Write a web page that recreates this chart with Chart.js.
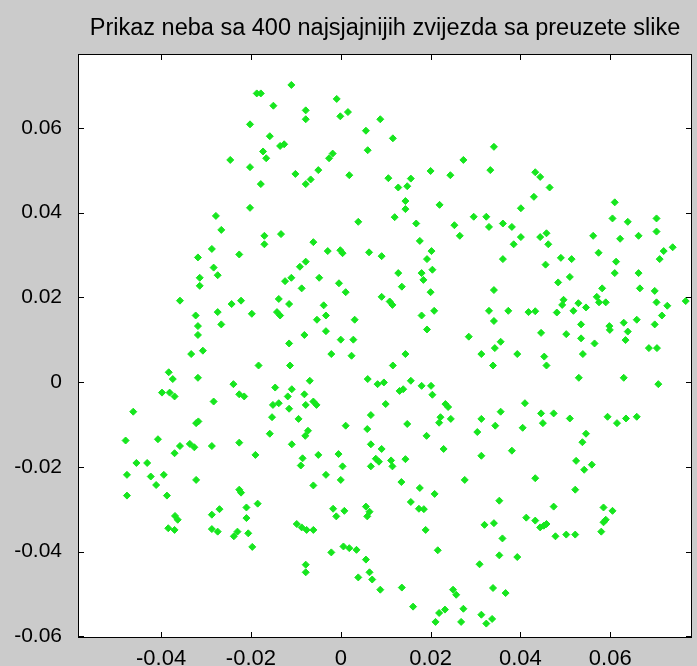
<!DOCTYPE html>
<html lang="hr">
<head>
<meta charset="UTF-8">
<title>Prikaz neba</title>
<script src="https://cdn.jsdelivr.net/npm/chart.js"></script>
<style>
  html, body { margin: 0; padding: 0; background: #cbcbcb; }
  canvas { display: block; }
</style>
</head>
<body>
<canvas id="nebo" width="697" height="666"></canvas>
<script>
// podaci ocitani sa slike (jedna linija = jedan dio slike, x i y idu u paru)
const naslov = 'Prikaz neba sa 400 najsjajnijih zvijezda sa preuzete slike';
const xTicks = [-0.04, -0.02, 0, 0.02, 0.04, 0.06];
const yTicks = [-0.06, -0.04, -0.02, 0, 0.02, 0.04, 0.06];

const starX = [
  -0.0187,-0.0178,-0.0150,-0.0202,-0.0158,-0.0135,-0.0173,-0.0166,-0.0246,-0.0202,-0.0178,
  -0.0126,-0.0110,-0.0009,-0.0078,-0.0078,-0.0001,0.0016,0.0088,0.0056,0.0116,0.0060,-0.0018,-0.0026,-0.0101,-0.0050,-0.0067,-0.0078,0.0019,0.0106,0.0128,0.0148,0.0156,0.0200,0.0244,0.0273,
  0.0341,0.0333,0.0433,0.0444,0.0465,
  -0.0202,-0.0278,-0.0266,-0.0170,-0.0170,-0.0133,-0.0287,-0.0318,-0.0226,-0.0283,-0.0274,-0.0314,-0.0314,-0.0358,-0.0243,-0.0222,-0.0138,-0.0274,-0.0323,-0.0198,-0.0142,-0.0135,-0.0266,-0.0318,-0.0318,
  0.0144,0.0144,0.0220,0.0039,0.0120,0.0168,0.0253,0.0296,0.0324,0.0265,-0.0061,0.0176,-0.0029,-0.0001,0.0004,0.0063,0.0091,0.0202,0.0192,-0.0091,-0.0078,0.0204,0.0128,0.0180,0.0184,-0.0110,-0.0124,-0.0048,-0.0087,-0.0004,0.0011,0.0136,0.0200,0.0091,0.0109,0.0115,-0.0115,-0.0038,-0.0033,-0.0053,0.0031,0.0180,0.0208,-0.0033,-0.0081,0.0192,0.0285,0.0000,0.0028,-0.0115,
  0.0430,0.0610,0.0401,0.0330,0.0361,0.0381,0.0401,0.0385,0.0444,0.0458,0.0462,0.0605,0.0639,0.0703,0.0703,0.0562,0.0622,0.0663,0.0739,0.0719,0.0710,0.0574,0.0361,0.0490,0.0514,0.0456,0.0613,0.0610,0.0663,0.0510,0.0484,0.0341,0.0582,0.0666,0.0699,0.0570,0.0575,0.0590,0.0496,0.0493,0.0529,0.0546,0.0518,0.0481,0.0330,0.0373,0.0418,0.0433,0.0703,0.0727,0.0768,0.0715,0.0341,0.0535,0.0630,0.0659,0.0699,0.0598,0.0599,0.0639,0.0446,0.0502,0.0535,0.0634,0.0356,0.0343,0.0565,0.0686,0.0704,
  -0.0333,-0.0307,-0.0183,-0.0383,-0.0374,-0.0318,-0.0239,-0.0146,-0.0398,-0.0381,-0.0370,-0.0226,-0.0215,-0.0283,-0.0151,-0.0138,-0.0462,-0.0153,-0.0322,-0.0317,-0.0479,-0.0407,-0.0158,-0.0358,-0.0336,-0.0326,-0.0287,-0.0226,-0.0370,-0.0190,-0.0455,-0.0431,-0.0476,-0.0423,-0.0394,-0.0411,-0.0322,-0.0476,-0.0387,-0.0226,-0.0222,-0.0185,
  -0.0021,0.0024,0.0144,0.0313,-0.0113,0.0116,-0.0069,0.0060,0.0082,0.0096,0.0156,0.0180,0.0201,-0.0109,-0.0118,-0.0081,0.0131,0.0139,0.0204,-0.0061,-0.0054,-0.0078,-0.0115,0.0100,0.0233,0.0239,0.0067,-0.0094,0.0222,0.0219,0.0245,0.0313,0.0011,0.0148,0.0059,-0.0073,-0.0079,0.0304,0.0191,0.0067,-0.0109,0.0091,0.0229,-0.0050,-0.0005,-0.0085,-0.0089,0.0078,0.0085,0.0112,0.0115,0.0144,0.0313,0.0004,0.0067,-0.0033,0.0000,0.0135,0.0276,-0.0061,0.0176,0.0209,0.0156,
  0.0393,0.0453,0.0458,0.0539,0.0339,0.0530,0.0630,0.0707,0.0410,0.0356,0.0446,0.0474,0.0510,0.0594,0.0615,0.0635,0.0659,0.0344,0.0405,0.0450,0.0546,0.0538,0.0381,0.0524,0.0559,0.0542,0.0433,0.0522,0.0353,
  -0.0369,-0.0363,-0.0384,-0.0370,-0.0287,-0.0270,-0.0287,-0.0274,-0.0210,-0.0210,-0.0230,-0.0238,-0.0206,-0.0197,
  -0.0017,-0.0010,0.0008,0.0056,0.0064,0.0059,-0.0098,-0.0087,-0.0076,-0.0061,0.0174,0.0185,0.0189,0.0320,0.0006,0.0019,0.0035,-0.0021,0.0216,-0.0078,-0.0078,0.0056,0.0309,0.0039,0.0064,0.0070,0.0088,0.0136,0.0250,0.0257,0.0161,0.0219,0.0232,0.0273,0.0211,0.0268,0.0313,0.0324,
  0.0474,0.0585,0.0605,0.0341,0.0413,0.0433,0.0444,0.0452,0.0458,0.0478,0.0502,0.0522,0.0585,0.0590,0.0580,0.0360,0.0353,0.0393,0.0339,0.0367,0.0337
];
const starY = [
  0.0681,0.0681,0.0652,0.0608,0.0580,0.0557,0.0544,0.0528,0.0524,0.0507,0.0467,
  0.0561,0.0701,0.0668,0.0641,0.0620,0.0627,0.0637,0.0620,0.0593,0.0575,0.0547,0.0539,0.0528,0.0491,0.0500,0.0478,0.0467,0.0488,0.0481,0.0459,0.0462,0.0480,0.0498,0.0488,0.0524,
  0.0555,0.0500,0.0495,0.0484,0.0459,
  0.0411,0.0392,0.0359,0.0345,0.0325,0.0349,0.0314,0.0294,0.0301,0.0270,0.0252,0.0246,0.0227,0.0192,0.0184,0.0192,0.0196,0.0165,0.0157,0.0161,0.0165,0.0157,0.0136,0.0132,0.0111,
  0.0427,0.0408,0.0418,0.0378,0.0389,0.0374,0.0370,0.0390,0.0390,0.0345,0.0330,0.0333,0.0309,0.0311,0.0304,0.0306,0.0297,0.0309,0.0290,0.0272,0.0284,0.0265,0.0257,0.0257,0.0241,0.0246,0.0238,0.0246,0.0221,0.0233,0.0212,0.0225,0.0212,0.0201,0.0190,0.0182,0.0184,0.0181,0.0157,0.0147,0.0147,0.0157,0.0168,0.0120,0.0111,0.0124,0.0107,0.0100,0.0100,0.0091,
  0.0437,0.0424,0.0410,0.0366,0.0374,0.0366,0.0342,0.0325,0.0342,0.0351,0.0325,0.0386,0.0378,0.0386,0.0355,0.0345,0.0338,0.0345,0.0318,0.0309,0.0290,0.0305,0.0290,0.0293,0.0290,0.0277,0.0284,0.0257,0.0257,0.0248,0.0235,0.0217,0.0221,0.0221,0.0215,0.0201,0.0188,0.0188,0.0194,0.0182,0.0186,0.0176,0.0168,0.0164,0.0168,0.0168,0.0165,0.0167,0.0188,0.0180,0.0191,0.0157,0.0144,0.0136,0.0140,0.0147,0.0136,0.0132,0.0123,0.0119,0.0116,0.0113,0.0103,0.0099,0.0095,0.0080,0.0091,0.0080,0.0080,
  0.0066,0.0074,0.0039,0.0023,0.0007,0.0010,-0.0005,-0.0013,-0.0025,-0.0025,-0.0034,-0.0029,-0.0034,-0.0046,-0.0054,-0.0050,-0.0070,-0.0083,-0.0097,-0.0093,-0.0138,-0.0135,-0.0122,-0.0151,-0.0146,-0.0154,-0.0151,-0.0143,-0.0168,-0.0172,-0.0191,-0.0191,-0.0219,-0.0223,-0.0219,-0.0243,-0.0231,-0.0268,-0.0268,-0.0254,-0.0261,-0.0287,
  0.0066,0.0062,0.0066,0.0066,0.0039,0.0039,0.0003,0.0007,-0.0005,-0.0001,0.0003,-0.0009,-0.0009,-0.0017,-0.0034,-0.0029,-0.0021,-0.0017,-0.0030,-0.0046,-0.0054,-0.0054,-0.0063,-0.0052,-0.0052,-0.0059,-0.0078,-0.0087,-0.0083,-0.0096,-0.0087,-0.0087,-0.0103,-0.0099,-0.0111,-0.0115,-0.0127,-0.0118,-0.0127,-0.0147,-0.0147,-0.0158,-0.0158,-0.0172,-0.0170,-0.0180,-0.0197,-0.0181,-0.0188,-0.0185,-0.0199,-0.0182,-0.0174,-0.0199,-0.0199,-0.0219,-0.0231,-0.0236,-0.0231,-0.0244,-0.0250,-0.0264,-0.0283,
  0.0066,0.0060,0.0039,0.0066,0.0039,0.0010,0.0010,-0.0005,-0.0050,-0.0070,-0.0074,-0.0074,-0.0086,-0.0082,-0.0097,-0.0086,-0.0082,-0.0103,-0.0108,-0.0097,-0.0122,-0.0142,-0.0162,-0.0186,-0.0195,-0.0207,-0.0227,-0.0254,-0.0280,
  -0.0316,-0.0325,-0.0345,-0.0349,-0.0313,-0.0300,-0.0347,-0.0353,-0.0296,-0.0321,-0.0353,-0.0364,-0.0357,-0.0389,
  -0.0299,-0.0317,-0.0304,-0.0294,-0.0306,-0.0317,-0.0335,-0.0343,-0.0349,-0.0349,-0.0299,-0.0300,-0.0349,-0.0337,-0.0388,-0.0392,-0.0396,-0.0402,-0.0397,-0.0431,-0.0449,-0.0419,-0.0430,-0.0461,-0.0449,-0.0466,-0.0490,-0.0485,-0.0490,-0.0502,-0.0530,-0.0545,-0.0537,-0.0535,-0.0566,-0.0566,-0.0549,-0.0570,
  -0.0294,-0.0296,-0.0304,-0.0333,-0.0320,-0.0327,-0.0343,-0.0339,-0.0335,-0.0364,-0.0360,-0.0360,-0.0331,-0.0325,-0.0353,-0.0369,-0.0409,-0.0413,-0.0486,-0.0498,-0.0559
];

const font = '"Liberation Sans", Arial, Helvetica, sans-serif';
const zelena = '#16e61e';

// siva pozadina, bijelo polje, okvir i crtice prema unutra
const matlabOkvir = {
  id: 'matlabOkvir',
  beforeDraw(chart) {
    const { ctx, chartArea: a } = chart;
    ctx.save();
    ctx.fillStyle = '#cbcbcb';
    ctx.fillRect(0, 0, chart.width, chart.height);
    ctx.fillStyle = '#ffffff';
    ctx.fillRect(a.left, a.top, a.right - a.left, a.bottom - a.top);
    ctx.restore();
  },
  afterDraw(chart) {
    const { ctx, chartArea: a, scales } = chart;
    ctx.save();
    ctx.strokeStyle = '#000';
    ctx.lineWidth = 1;
    ctx.beginPath();
    xTicks.forEach(v => {
      const px = Math.round(scales.x.getPixelForValue(v)) + 0.5;
      ctx.moveTo(px, a.bottom); ctx.lineTo(px, a.bottom - 6);
      ctx.moveTo(px, a.top); ctx.lineTo(px, a.top + 6);
    });
    yTicks.forEach(v => {
      const py = Math.round(scales.y.getPixelForValue(v)) + 0.5;
      ctx.moveTo(a.left, py); ctx.lineTo(a.left + 6, py);
      ctx.moveTo(a.right, py); ctx.lineTo(a.right - 6, py);
    });
    ctx.stroke();
    ctx.strokeRect(a.left + 0.5, a.top + 0.5, a.right - a.left - 1, a.bottom - a.top - 1);
    ctx.restore();
  }
};

const tocke = starX.map((x, i) => ({ x: x, y: starY[i] }));

new Chart(document.getElementById('nebo'), {
  type: 'scatter',
  data: {
    datasets: [{
      data: tocke,
      pointStyle: 'rectRot',
      pointRadius: 3.5,
      borderWidth: 1,
      backgroundColor: zelena,
      borderColor: zelena
    }]
  },
  options: {
    responsive: false,
    devicePixelRatio: 1,
    animation: false,
    events: [],
    layout: { padding: { right: 4 } },
    plugins: {
      legend: { display: false },
      tooltip: { enabled: false },
      title: {
        display: true,
        text: naslov,
        fullSize: false,
        color: '#000',
        font: { family: font, size: 23.5, weight: 'normal', lineHeight: 1.2 },
        padding: { top: 14.5, bottom: 11.3 }
      }
    },
    scales: {
      x: {
        type: 'linear',
        min: -0.0585,
        max: 0.0782,
        afterBuildTicks: s => { s.ticks = xTicks.map(v => ({ value: v })); },
        afterFit: s => { s.height = 28; },
        grid: { display: false },
        border: { display: false },
        ticks: {
          color: '#000',
          font: { family: font, size: 22 },
          padding: 0,
          maxRotation: 0,
          autoSkip: false,
          callback: v => v === 0 ? '0' : v.toFixed(2)
        }
      },
      y: {
        type: 'linear',
        min: -0.0604,
        max: 0.0774,
        afterBuildTicks: s => { s.ticks = yTicks.map(v => ({ value: v })); },
        afterFit: s => { s.width = 78; },
        grid: { display: false },
        border: { display: false },
        ticks: {
          color: '#000',
          font: { family: font, size: 21 },
          padding: 8,
          autoSkip: false,
          callback: v => v === 0 ? '0' : v.toFixed(2)
        }
      }
    }
  },
  plugins: [matlabOkvir]
});
</script>
</body>
</html>
